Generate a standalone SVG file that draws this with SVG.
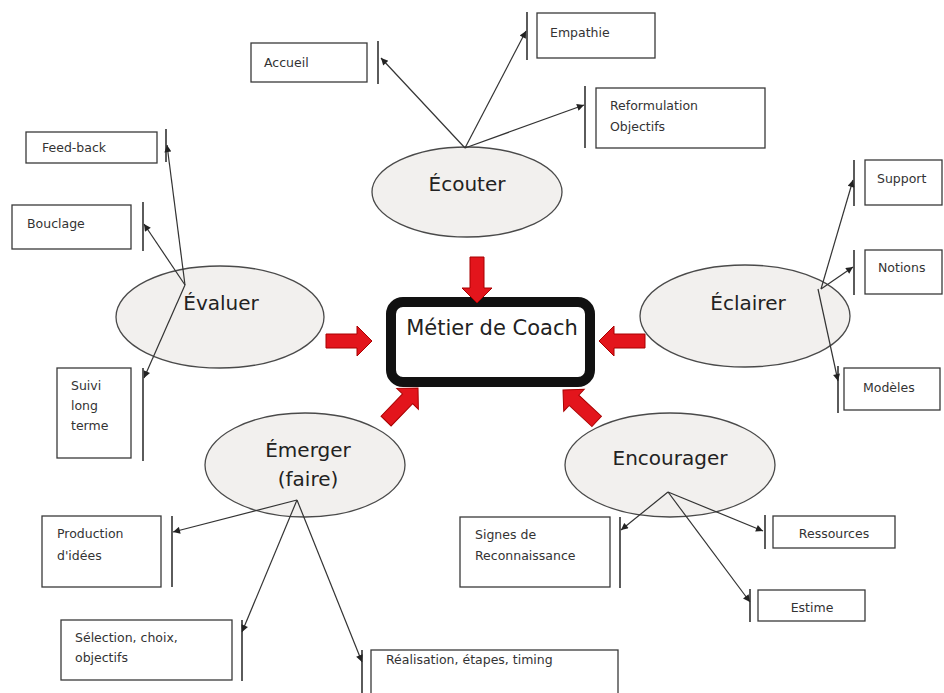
<svg xmlns="http://www.w3.org/2000/svg" xmlns:xlink="http://www.w3.org/1999/xlink" width="944" height="693" viewBox="0 0 944 693">
<defs>
<style>
.bg{fill:#ffffff}
.ell{fill:#f2f0ee;stroke:#4a4a4a;stroke-width:1.3}
.box{fill:#ffffff;stroke:#3a3a3a;stroke-width:1.3}
.bar{stroke:#333333;stroke-width:1.6;fill:none}
.conn{stroke:#333333;stroke-width:1.2;fill:none;marker-end:url(#ah)}
.lbl{font-family:"DejaVu Sans","Liberation Sans",sans-serif;font-size:12.5px;fill:#333333}
.big{font-family:"DejaVu Sans","Liberation Sans",sans-serif;font-size:20px;fill:#222222;text-anchor:middle}
.center{fill:#ffffff;stroke:#111111;stroke-width:10}
.red{fill:#e3151c;stroke:#a80000;stroke-width:1}
</style>
<marker id="ah" viewBox="0 0 10 10" refX="10" refY="5" markerWidth="9" markerHeight="7" markerUnits="userSpaceOnUse" orient="auto">
<path d="M0,0 L10,5 L0,10 Z" fill="#222222"/>
</marker>
<path id="redArrow" d="M-46,-7 L-15,-7 L-15,-15 L0,0 L-15,15 L-15,7 L-46,7 Z"/>
</defs>
<rect class="bg" x="0" y="0" width="944" height="693"/>

<g id="center">
<rect class="center" x="391" y="302" width="199" height="80" rx="12" ry="12"/>
<text class="big" x="492" y="335" style="font-size:21px">Métier de Coach</text>
</g>

<g id="red-arrows">
<use xlink:href="#redArrow" href="#redArrow" class="red" transform="translate(477,303) rotate(90)"/>
<use xlink:href="#redArrow" href="#redArrow" class="red" transform="translate(372,341)"/>
<use xlink:href="#redArrow" href="#redArrow" class="red" transform="translate(599,341) rotate(180)"/>
<use xlink:href="#redArrow" href="#redArrow" class="red" transform="translate(418,388) rotate(-46)"/>
<use xlink:href="#redArrow" href="#redArrow" class="red" transform="translate(563,390) rotate(-137)"/>
</g>

<g id="ecouter">
<ellipse class="ell" cx="467" cy="192" rx="95" ry="45"/>
<text class="big" x="467" y="191">Écouter</text>
</g>
<g id="evaluer">
<ellipse class="ell" cx="220" cy="317" rx="104" ry="51"/>
<text class="big" x="221" y="310">Évaluer</text>
</g>
<g id="eclairer">
<ellipse class="ell" cx="745" cy="316" rx="105" ry="51"/>
<text class="big" x="748" y="310">Éclairer</text>
</g>
<g id="emerger">
<ellipse class="ell" cx="305" cy="465" rx="100" ry="52"/>
<text class="big" x="308" y="457">Émerger</text>
<text class="big" x="308" y="486">(faire)</text>
</g>
<g id="encourager">
<ellipse class="ell" cx="670" cy="465" rx="105" ry="52"/>
<text class="big" x="670" y="465">Encourager</text>
</g>

<g id="accueil">
<rect class="box" x="251" y="43" width="116" height="39"/>
<text class="lbl" x="264" y="67">Accueil</text>
</g>
<g id="empathie">
<rect class="box" x="537" y="13" width="118" height="45"/>
<text class="lbl" x="550" y="37">Empathie</text>
</g>
<g id="reformulation">
<rect class="box" x="596" y="88" width="169" height="60"/>
<text class="lbl" x="610" y="110">Reformulation</text>
<text class="lbl" x="610" y="131">Objectifs</text>
</g>
<g id="feedback">
<rect class="box" x="26" y="132" width="131" height="31"/>
<text class="lbl" x="42" y="152">Feed-back</text>
</g>
<g id="bouclage">
<rect class="box" x="12" y="205" width="119" height="44"/>
<text class="lbl" x="27" y="228">Bouclage</text>
</g>
<g id="suivi">
<rect class="box" x="57" y="368" width="74" height="90"/>
<text class="lbl" x="71" y="390">Suivi</text>
<text class="lbl" x="71" y="410">long</text>
<text class="lbl" x="71" y="430">terme</text>
</g>
<g id="support">
<rect class="box" x="865" y="160" width="77" height="45"/>
<text class="lbl" x="877" y="183">Support</text>
</g>
<g id="notions">
<rect class="box" x="865" y="250" width="77" height="44"/>
<text class="lbl" x="878" y="272">Notions</text>
</g>
<g id="modeles">
<rect class="box" x="844" y="368" width="96" height="42"/>
<text class="lbl" x="863" y="392">Modèles</text>
</g>
<g id="production">
<rect class="box" x="42" y="516" width="119" height="71"/>
<text class="lbl" x="57" y="538">Production</text>
<text class="lbl" x="57" y="560">d'idées</text>
</g>
<g id="selection">
<rect class="box" x="61" y="620" width="171" height="60"/>
<text class="lbl" x="75" y="642">Sélection, choix,</text>
<text class="lbl" x="75" y="662">objectifs</text>
</g>
<g id="realisation">
<rect class="box" x="371" y="650" width="247" height="60"/>
<text class="lbl" x="386" y="664">Réalisation, étapes, timing</text>
</g>
<g id="signes">
<rect class="box" x="460" y="517" width="150" height="70"/>
<text class="lbl" x="475" y="539">Signes de</text>
<text class="lbl" x="475" y="560">Reconnaissance</text>
</g>
<g id="ressources">
<rect class="box" x="773" y="516" width="122" height="32"/>
<text class="lbl" x="834" y="538" text-anchor="middle">Ressources</text>
</g>
<g id="estime">
<rect class="box" x="758" y="590" width="107" height="31"/>
<text class="lbl" x="812" y="612" text-anchor="middle">Estime</text>
</g>

<g id="connectors">
<line class="bar" x1="378" y1="41" x2="378" y2="84"/>
<line class="bar" x1="527" y1="12" x2="527" y2="60"/>
<line class="bar" x1="585" y1="86" x2="585" y2="148"/>
<line class="bar" x1="166" y1="129" x2="166" y2="162"/>
<line class="bar" x1="143" y1="202" x2="143" y2="251"/>
<line class="bar" x1="143" y1="368" x2="143" y2="461"/>
<line class="bar" x1="854" y1="160" x2="854" y2="206"/>
<line class="bar" x1="854" y1="250" x2="854" y2="295"/>
<line class="bar" x1="838" y1="366" x2="838" y2="413"/>
<line class="bar" x1="172" y1="516" x2="172" y2="587"/>
<line class="bar" x1="242" y1="620" x2="242" y2="681"/>
<line class="bar" x1="362" y1="650" x2="362" y2="693"/>
<line class="bar" x1="620" y1="517" x2="620" y2="588"/>
<line class="bar" x1="765" y1="515" x2="765" y2="549"/>
<line class="bar" x1="750" y1="589" x2="750" y2="622"/>

<line class="conn" x1="465" y1="148" x2="381" y2="58"/>
<line class="conn" x1="465" y1="148" x2="526" y2="31"/>
<line class="conn" x1="465" y1="148" x2="584" y2="105"/>
<line class="conn" x1="185" y1="285" x2="167" y2="145"/>
<line class="conn" x1="185" y1="285" x2="144" y2="224"/>
<line class="conn" x1="185" y1="285" x2="144" y2="378"/>
<line class="conn" x1="821" y1="289" x2="853" y2="180"/>
<line class="conn" x1="821" y1="289" x2="853" y2="267"/>
<line class="conn" x1="818" y1="289" x2="838" y2="381"/>
<line class="conn" x1="297" y1="500" x2="173" y2="532"/>
<line class="conn" x1="297" y1="500" x2="242" y2="632"/>
<line class="conn" x1="297" y1="500" x2="362" y2="662"/>
<line class="conn" x1="668" y1="492" x2="621" y2="530"/>
<line class="conn" x1="668" y1="492" x2="763" y2="531"/>
<line class="conn" x1="668" y1="492" x2="750" y2="602"/>
</g>
</svg>
